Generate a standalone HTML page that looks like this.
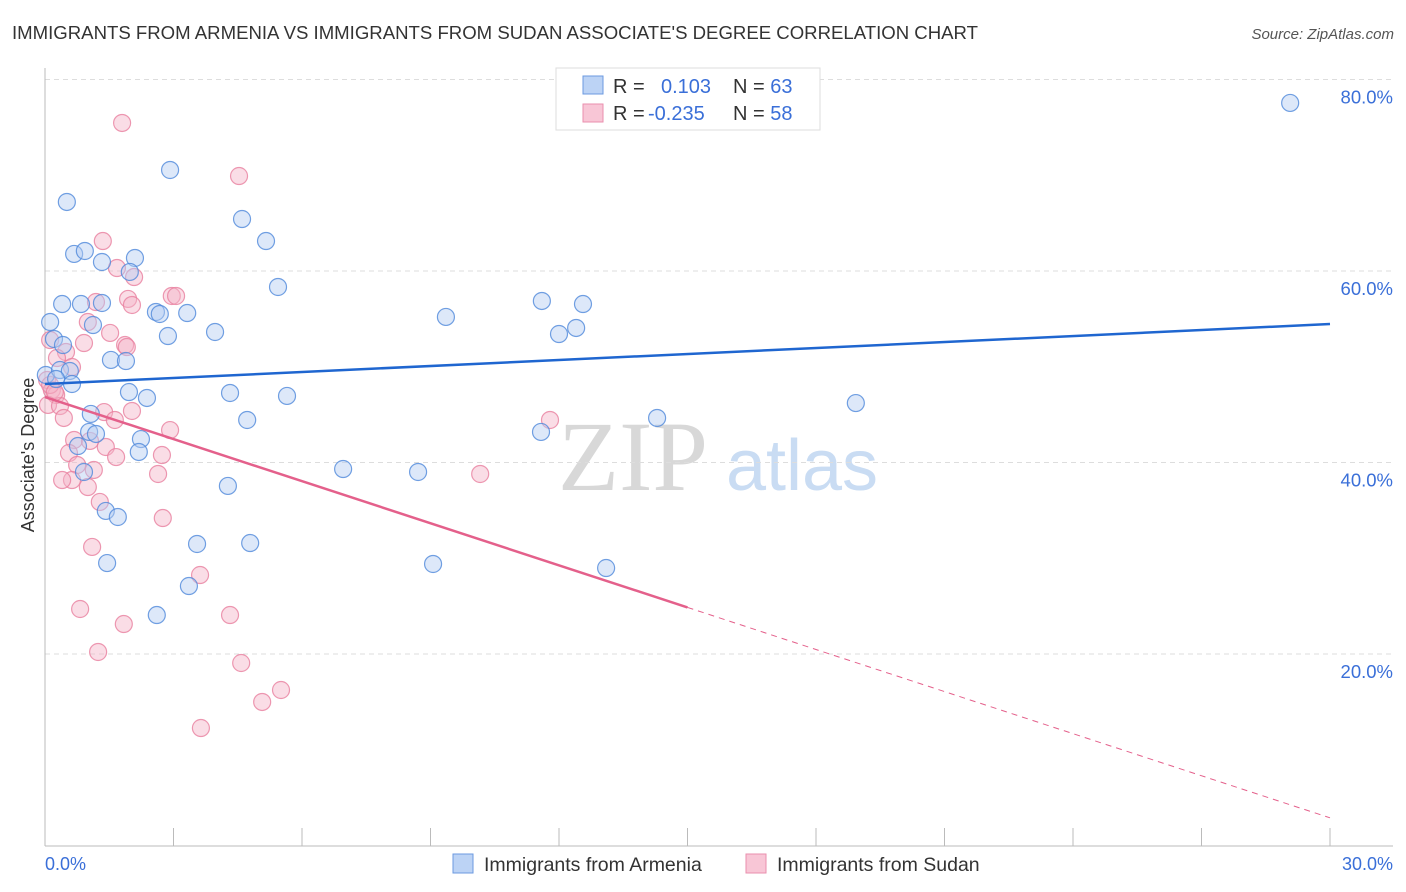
<!DOCTYPE html>
<html><head><meta charset="utf-8"><style>
body{margin:0;background:#fff;font-family:"Liberation Sans",sans-serif;}
svg{display:block}
</style></head><body>
<svg width="1406" height="892" viewBox="0 0 1406 892" xmlns="http://www.w3.org/2000/svg">
<text x="12" y="39" font-size="18.6" fill="#333" textLength="966">IMMIGRANTS FROM ARMENIA VS IMMIGRANTS FROM SUDAN ASSOCIATE'S DEGREE CORRELATION CHART</text>
<text x="1394" y="39" font-size="15" fill="#555" font-style="italic" text-anchor="end">Source: ZipAtlas.com</text>
<g>
<text x="633" y="490" font-size="100" fill="#d8d8d8" text-anchor="middle" font-family="Liberation Serif,serif">ZIP</text>
<text x="802" y="490" font-size="72" fill="#c9dcf3" text-anchor="middle">atlas</text>
</g>
<g id="grid"></g>
<g id="axes"></g>
<g id="marks"></g>
<text transform="translate(34,455) rotate(-90)" font-size="18" fill="#333" text-anchor="middle">Associate's Degree</text>
<text x="45" y="870" font-size="18" fill="#3a6fd8">0.0%</text>
<text x="1393" y="870" font-size="18" fill="#3a6fd8" text-anchor="end">30.0%</text>
<g>
<rect x="556" y="68" width="264" height="62" fill="#fff" stroke="#ddd"/>
<rect x="583" y="76" width="20" height="18" fill="#bcd3f5" stroke="#6b9ae0"/>
<rect x="583" y="104" width="20" height="18" fill="#f8c6d6" stroke="#ea8fae"/>
<text x="613" y="93" font-size="20" fill="#333">R = <tspan fill="#3a6fd8" x="661">0.103</tspan><tspan x="733" fill="#333">N = </tspan><tspan fill="#3a6fd8">63</tspan></text>
<text x="613" y="120" font-size="20" fill="#333">R = <tspan fill="#3a6fd8" x="648">-0.235</tspan><tspan x="733" fill="#333">N = </tspan><tspan fill="#3a6fd8">58</tspan></text>
</g>
<g>
<rect x="453" y="854" width="20" height="19" fill="#bcd3f5" stroke="#6b9ae0"/>
<text x="484" y="871" font-size="19.5" fill="#333">Immigrants from Armenia</text>
<rect x="746" y="854" width="20" height="19" fill="#f8c6d6" stroke="#ea8fae"/>
<text x="777" y="871" font-size="19.5" fill="#333">Immigrants from Sudan</text>
</g>
</svg>
<script>
const yTicks=[20,40,60,80];
const yTickLabels=["20.0%","40.0%","60.0%","80.0%"];
const xTicks=[0,3,6,9,12,15,18,21,24,27,30];
const armeniaX=[29.07,2.92,0.51,4.60,5.16,0.68,0.93,2.10,1.33,1.98,5.44,0.40,0.84,1.33,2.59,2.68,3.32,1.12,2.87,3.97,9.36,11.60,12.56,12.40,12.00,0.12,0.21,0.42,1.54,1.89,0.02,0.35,0.58,0.26,0.63,1.96,2.38,4.32,5.65,1.07,4.72,18.93,14.29,11.58,1.03,1.19,2.24,0.77,2.19,0.91,6.96,8.71,4.27,1.42,1.70,3.55,4.79,1.45,9.06,13.10,3.36,2.61];
const armeniaY=[77.55,70.55,67.21,65.43,63.13,61.78,62.09,61.36,60.94,59.90,58.33,56.55,56.55,56.66,55.72,55.51,55.61,54.36,53.21,53.63,55.20,56.87,56.55,54.05,53.42,54.67,52.90,52.27,50.71,50.60,49.14,49.66,49.56,48.72,48.20,47.36,46.74,47.26,46.95,45.07,44.44,46.21,44.65,43.19,43.19,42.98,42.45,41.72,41.10,39.01,39.32,39.01,37.55,34.94,34.31,31.49,31.59,29.50,29.40,28.98,27.10,24.07];
const sudanX=[1.80,4.53,1.35,1.68,2.08,1.19,1.94,2.03,2.96,3.06,1.00,1.52,0.91,1.87,1.91,0.49,0.28,0.12,0.63,0.05,0.16,0.26,0.07,0.35,0.44,1.38,2.03,0.68,1.63,2.92,1.05,1.42,1.66,2.73,0.56,0.75,1.14,2.64,0.63,1.00,0.40,1.28,2.75,10.16,11.79,1.10,3.62,0.82,1.84,4.32,1.24,4.58,5.51,5.07,3.64,0.12,0.23];
const sudanY=[75.46,69.92,63.13,60.31,59.37,56.76,57.08,56.45,57.39,57.39,54.67,53.53,52.48,52.27,52.06,51.54,50.91,52.79,49.97,48.62,47.57,47.05,46.01,45.90,44.65,45.27,45.38,42.35,44.44,43.39,42.25,41.62,40.57,40.78,40.99,39.74,39.22,38.80,38.17,37.44,38.17,35.88,34.20,38.80,44.44,31.18,28.25,24.70,23.13,24.07,20.21,19.06,16.24,14.99,12.27,48.10,47.36];
const armeniaTrend=[48.2,54.46];
const sudanTrendStart=46.84, sudanTrendSlope=-1.465;
const sx=v=>45+v/30*1285;
const sy=v=>845.5-v/20*191.5;
const NS="http://www.w3.org/2000/svg";
function mk(tag,attrs,parent){const e=document.createElementNS(NS,tag);for(const k in attrs)e.setAttribute(k,attrs[k]);parent.appendChild(e);return e;}
const grid=document.getElementById('grid'),axes=document.getElementById('axes'),marks=document.getElementById('marks');
yTicks.forEach((t,i)=>{
 const l=mk('line',{x1:45,x2:1393,y1:sy(t),y2:sy(t),stroke:'#ddd','stroke-dasharray':'5,4'},grid);
 
 
 const tx=mk('text',{x:1393,y:sy(t)+24,'font-size':18.5,fill:'#3a6fd8','text-anchor':'end'},grid);
 tx.textContent=yTickLabels[i];
 
 
});
const ya=mk('line',{x1:45,x2:45,y1:68,y2:846,stroke:'#bbb'},axes);


const xa=mk('line',{x1:45,x2:1393,y1:846,y2:846,stroke:'#bbb'},axes);


xTicks.forEach(t=>{
 const l=mk('line',{x1:sx(t),x2:sx(t),y1:828,y2:846,stroke:'#bbb'},axes);
 
 
});
function dots(xs,ys,fill,stroke,name){
 xs.forEach((x,i)=>{
  const c=mk('circle',{cx:sx(x),cy:sy(ys[i]),r:8.5,fill:fill,'fill-opacity':0.45,stroke:stroke,'stroke-width':1.2,'stroke-opacity':0.8},marks);
  
  
 });
}
dots(sudanX,sudanY,'#f5b3c8','#e8809f','sudan-point');
dots(armeniaX,armeniaY,'#b3cdf2','#4f88db','armenia-point');
const bt=mk('line',{x1:sx(0),y1:sy(armeniaTrend[0]),x2:sx(30),y2:sy(armeniaTrend[1]),stroke:'#1f66d0','stroke-width':2.5},marks);


const ps=mk('line',{x1:sx(0),y1:sy(sudanTrendStart),x2:sx(15),y2:sy(sudanTrendStart+15*sudanTrendSlope),stroke:'#e4608b','stroke-width':2.5},marks);


const pd=mk('line',{x1:sx(15),y1:sy(sudanTrendStart+15*sudanTrendSlope),x2:sx(30),y2:sy(sudanTrendStart+30*sudanTrendSlope),stroke:'#e4608b','stroke-width':1,'stroke-dasharray':'6,5'},marks);


</script>
</body></html>
